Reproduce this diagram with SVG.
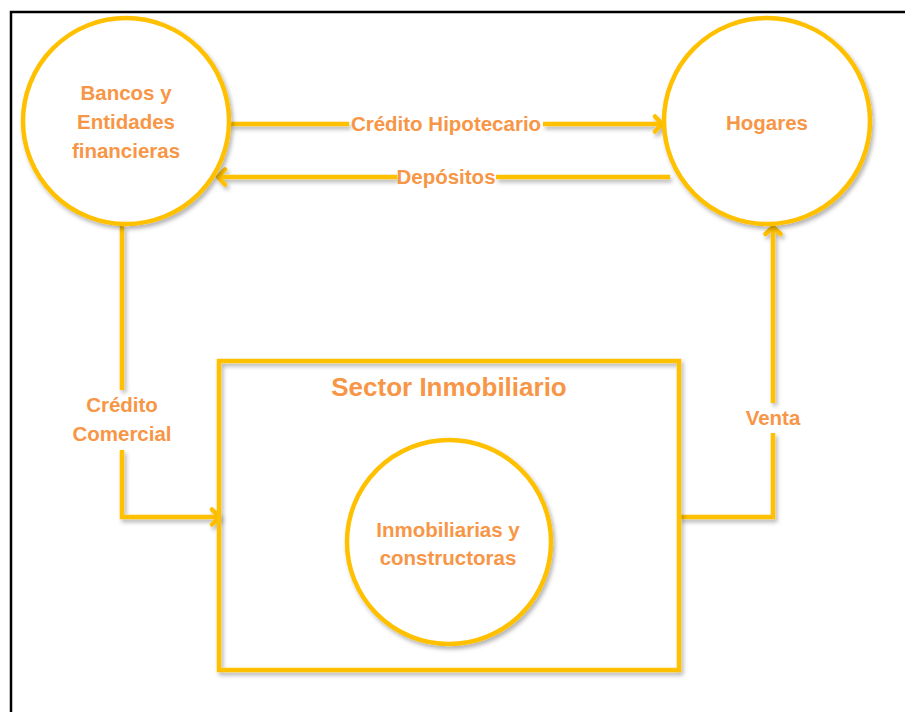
<svg xmlns="http://www.w3.org/2000/svg" width="905" height="712" viewBox="0 0 905 712">
<style>
.c{fill:#fff;stroke:#FFC000;stroke-width:4.5}
.l{fill:none;stroke:#FFC000;stroke-width:4.5;stroke-linejoin:miter}
.t{font-family:"Liberation Sans",Arial,sans-serif;font-weight:bold;font-size:20.5px;fill:#F79646;text-anchor:middle}
</style>
<defs>
<filter id="sh" x="-20%" y="-20%" width="140%" height="140%">
<feDropShadow dx="2" dy="3" stdDeviation="2" flood-color="#000" flood-opacity="0.3"/>
</filter>
<marker id="ar" viewBox="0 0 20 20" refX="17" refY="10" markerWidth="20" markerHeight="20" markerUnits="userSpaceOnUse" orient="auto">
<polyline points="10,2.5 17,10 10,17.5" fill="none" stroke="#FFC000" stroke-width="4.5" stroke-linecap="round" stroke-linejoin="round"/>
</marker>
</defs>
<rect width="905" height="712" fill="#fff"/>
<rect x="11" y="12" width="900" height="710" fill="none" stroke="#000" stroke-width="2.5"/>
<g id="connectors" filter="url(#sh)">
<path class="l" d="M230,124 H349"/>
<path class="l" d="M543,124 H662" marker-end="url(#ar)"/>
<path class="l" d="M670,177 H496"/>
<path class="l" d="M397,177 H218" marker-end="url(#ar)"/>
<path class="l" d="M122,226 V390"/>
<path class="l" d="M122,450 V517 H219" marker-end="url(#ar)"/>
<path class="l" d="M679,517 H773 V433"/>
<path class="l" d="M773,403 V227" marker-end="url(#ar)"/>
</g>
<g id="bancos">
<circle class="c" cx="126" cy="121" r="103" filter="url(#sh)"/>
<text class="t" x="126" y="100">Bancos y</text>
<text class="t" x="126" y="129">Entidades</text>
<text class="t" x="126" y="158">financieras</text>
</g>
<g id="hogares">
<circle class="c" cx="767" cy="121" r="103" filter="url(#sh)"/>
<text class="t" x="767" y="130">Hogares</text>
</g>
<g id="sector">
<rect class="l" x="219" y="361" width="460" height="309" fill="#fff" filter="url(#sh)"/>
<text class="t" x="449" y="396" style="font-size:26px">Sector Inmobiliario</text>
</g>
<g id="inmobiliarias">
<circle class="c" cx="449" cy="542" r="102" filter="url(#sh)"/>
<text class="t" x="448" y="537">Inmobiliarias y</text>
<text class="t" x="448" y="565">constructoras</text>
</g>
<g id="labels">
<text class="t" x="446" y="131">Crédito Hipotecario</text>
<text class="t" x="446" y="184">Depósitos</text>
<text class="t" x="122" y="412">Crédito</text>
<text class="t" x="122" y="441">Comercial</text>
<text class="t" x="773" y="425">Venta</text>
</g>
</svg>
